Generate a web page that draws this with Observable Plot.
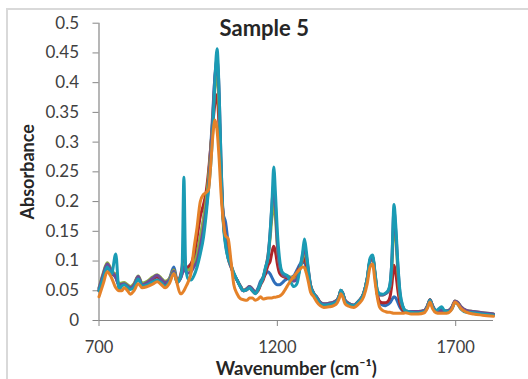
<!DOCTYPE html>
<html>
<head>
<meta charset="utf-8">
<script src="https://cdn.jsdelivr.net/npm/d3@7"></script>
<script src="https://cdn.jsdelivr.net/npm/@observablehq/plot@0.6"></script>
<style>
  html, body { margin: 0; padding: 0; background: #fff; overflow: hidden; }
  #wrap { position: relative; width: 528px; height: 379px; }
  #frame { position: absolute; left: 6px; top: 8px; width: 520px; height: 369px;
           border-left: 2px solid #d9d9d9; border-top: 2px solid #d9d9d9; pointer-events: none; }
  #chart { position: absolute; left: 0; top: 0; }
</style>
</head>
<body>
<div id="wrap"><div id="chart"></div><div id="frame"></div></div>
<script>
const title = "Sample 5";
const xLabel = "Wavenumber (cm⁻¹)";
const yLabel = "Absorbance";
const xTicks = [700, 1200, 1700];
const yTicks = [0, 0.05, 0.1, 0.15, 0.2, 0.25, 0.3, 0.35, 0.4, 0.45, 0.5];
const seriesNames = ["S1", "S2", "S3", "S4", "S5", "S6"];
const seriesColors = ["#2F6EBA", "#AE2429", "#8DB040", "#6E4B97", "#1A9BB4", "#E58229"];

const wavenumber = [
  700, 712, 723, 735, 747, 756, 764, 771, 780, 788,
  798, 810, 821, 835, 850, 863, 875, 885, 897, 910,
  919, 928, 933, 938, 943, 950, 958, 966, 975, 984,
  993, 1000, 1007, 1013, 1019, 1025, 1031, 1037, 1042, 1048,
  1055, 1062, 1070, 1078, 1087, 1096, 1105, 1115, 1122, 1130,
  1138, 1146, 1153, 1160, 1167, 1174, 1180, 1185, 1190, 1195,
  1200, 1206, 1213, 1220, 1227, 1236, 1246, 1255, 1264, 1271,
  1276, 1281, 1287, 1293, 1302, 1311, 1320, 1330, 1345, 1358,
  1368, 1374, 1378, 1383, 1390, 1400, 1414, 1428, 1442, 1452,
  1460, 1467, 1474, 1480, 1487, 1495, 1503, 1510, 1516, 1521,
  1527, 1532, 1538, 1544, 1552, 1560, 1575, 1595, 1612, 1621,
  1628, 1635, 1645, 1655, 1661, 1668, 1680, 1690, 1698, 1705,
  1715, 1730, 1750, 1775, 1806
];

const s1 = [
  .052,.075,.092,.080,.072,.060,.060,.062,.058,.055,
  .060,.073,.060,.063,.070,.074,.068,.063,.070,.090,
  .068,.070,.080,.092,.085,.090,.095,.100,.115,.140,
  .170,.200,.240,.290,.350,.410,.430,.350,.250,.180,
  .165,.130,.095,.078,.068,.058,.050,.053,.056,.052,
  .048,.055,.066,.072,.078,.082,.078,.072,.066,.062,
  .060,.060,.063,.067,.070,.072,.075,.085,.095,.098,
  .097,.090,.075,.058,.045,.038,.030,.027,.028,.030,
  .034,.042,.050,.046,.033,.028,.025,.032,.045,.070,
  .100,.105,.075,.045,.030,.026,.025,.027,.030,.035,
  .040,.038,.030,.022,.016,.014,.014,.014,.016,.024,
  .035,.024,.016,.017,.019,.016,.016,.022,.032,.030,
  .022,.016,.014,.012,.010
];
const s2 = [
  .050,.072,.090,.078,.078,.060,.060,.062,.058,.055,
  .060,.072,.060,.062,.069,.073,.067,.062,.068,.085,
  .066,.075,.090,.120,.085,.090,.095,.110,.140,.175,
  .195,.215,.250,.290,.330,.365,.380,.320,.240,.175,
  .140,.110,.092,.078,.068,.058,.050,.052,.055,.050,
  .046,.050,.060,.068,.080,.093,.100,.115,.125,.115,
  .095,.080,.075,.073,.072,.070,.070,.080,.092,.100,
  .105,.095,.078,.058,.045,.038,.030,.027,.028,.030,
  .034,.042,.050,.046,.033,.028,.025,.032,.045,.070,
  .100,.105,.075,.045,.032,.030,.030,.032,.040,.060,
  .093,.080,.050,.028,.017,.014,.014,.014,.016,.024,
  .035,.024,.016,.016,.016,.015,.016,.022,.032,.030,
  .022,.016,.014,.012,.010
];
const s3 = [
  .055,.080,.097,.085,.075,.062,.063,.064,.060,.057,
  .062,.075,.063,.066,.073,.077,.071,.066,.070,.085,
  .066,.072,.080,.095,.085,.085,.088,.095,.110,.140,
  .170,.200,.240,.285,.340,.395,.410,.350,.250,.170,
  .130,.105,.090,.078,.068,.058,.051,.054,.057,.053,
  .048,.052,.062,.072,.088,.110,.140,.175,.200,.170,
  .125,.095,.080,.075,.075,.073,.068,.072,.088,.105,
  .120,.105,.082,.060,.046,.039,.031,.028,.029,.031,
  .035,.043,.051,.047,.034,.029,.026,.033,.046,.070,
  .102,.107,.078,.050,.043,.043,.045,.048,.058,.090,
  .160,.140,.080,.040,.022,.016,.015,.015,.017,.025,
  .035,.025,.017,.017,.017,.016,.017,.023,.033,.031,
  .023,.017,.015,.013,.011
];
const s4 = [
  .054,.078,.095,.083,.073,.060,.061,.062,.058,.055,
  .060,.074,.060,.064,.071,.076,.069,.064,.068,.083,
  .064,.070,.078,.090,.082,.080,.082,.090,.100,.125,
  .155,.185,.225,.280,.340,.410,.440,.380,.270,.175,
  .130,.105,.090,.078,.068,.058,.050,.054,.057,.053,
  .048,.052,.062,.072,.088,.110,.150,.195,.230,.190,
  .130,.095,.080,.075,.074,.071,.066,.070,.090,.110,
  .125,.110,.085,.060,.046,.039,.031,.028,.029,.031,
  .035,.043,.051,.047,.034,.029,.026,.033,.046,.070,
  .102,.107,.078,.050,.043,.043,.045,.048,.060,.100,
  .185,.150,.090,.045,.023,.016,.015,.015,.017,.025,
  .035,.025,.017,.017,.017,.016,.017,.023,.033,.031,
  .023,.017,.015,.013,.011
];
const s5 = [
  .050,.072,.090,.078,.112,.052,.058,.060,.056,.052,
  .056,.070,.058,.060,.065,.068,.063,.058,.065,.080,
  .064,.072,.090,.241,.090,.070,.068,.075,.090,.112,
  .140,.175,.220,.260,.320,.405,.457,.380,.270,.170,
  .125,.105,.093,.080,.068,.057,.050,.052,.055,.050,
  .045,.052,.062,.072,.090,.105,.150,.200,.258,.210,
  .150,.105,.082,.078,.076,.067,.057,.062,.090,.115,
  .137,.118,.085,.058,.045,.037,.029,.026,.027,.029,
  .033,.042,.051,.046,.032,.027,.025,.032,.045,.072,
  .105,.110,.080,.052,.045,.044,.046,.050,.062,.100,
  .195,.160,.095,.048,.024,.016,.014,.013,.015,.023,
  .034,.023,.017,.021,.023,.017,.015,.020,.030,.028,
  .019,.014,.013,.011,.009
];
const s6 = [
  .040,.062,.082,.072,.055,.050,.050,.055,.050,.044,
  .050,.062,.055,.057,.061,.065,.060,.055,.062,.079,
  .062,.045,.046,.050,.056,.065,.080,.120,.157,.200,
  .212,.215,.220,.260,.310,.337,.320,.270,.215,.170,
  .142,.138,.100,.060,.045,.037,.035,.034,.038,.038,
  .034,.036,.040,.036,.037,.038,.038,.038,.039,.039,
  .040,.041,.044,.050,.057,.066,.074,.081,.087,.090,
  .089,.080,.065,.048,.040,.031,.025,.022,.023,.025,
  .030,.038,.045,.040,.028,.024,.022,.028,.040,.062,
  .090,.095,.065,.040,.022,.017,.015,.014,.014,.013,
  .012,.012,.012,.012,.012,.013,.011,.011,.013,.021,
  .031,.020,.013,.012,.012,.012,.013,.020,.031,.028,
  .020,.014,.011,.009,.007
];

const seriesValues = [s1, s2, s3, s4, s5, s6];
const rows = seriesNames.flatMap((name, i) =>
  wavenumber.map((w, j) => ({series: name, w, a: seriesValues[i][j]}))
);

const font = "Lato, 'Open Sans', sans-serif";
const chart = Plot.plot({
  width: 528,
  height: 379,
  marginLeft: 98.5,
  marginRight: 35,
  marginTop: 22.7,
  marginBottom: 59,
  style: {fontFamily: font, background: "transparent", overflow: "visible"},
  x: {domain: [700, 1806]},
  y: {domain: [0, 0.5]},
  color: {domain: seriesNames, range: seriesColors},
  marks: [
    Plot.ruleX([700], {stroke: "#868686", strokeWidth: 1.2}),
    Plot.ruleY([0], {stroke: "#868686", strokeWidth: 1.2}),
    Plot.axisY({ticks: yTicks, tickSize: 6, tickPadding: 14, stroke: "#868686",
      tickFormat: d => String(+d.toFixed(2)), fontSize: 17, fill: "#404040", label: null}),
    Plot.axisX({ticks: xTicks, tickSize: 6, tickPadding: 15, stroke: "#868686",
      tickFormat: d => String(d), fontSize: 16.5, fill: "#404040", label: null}),
    Plot.lineY(rows, {x: "w", y: "a", z: "series", stroke: "series", strokeWidth: 3, curve: "monotone-x"}),
    Plot.text([title], {frameAnchor: "top", dx: -32, dy: 13, lineAnchor: "bottom",
      fontSize: 22, fontWeight: "bold", fill: "#262626"}),
    Plot.text([xLabel], {frameAnchor: "bottom", dx: 0, dy: 54, lineAnchor: "bottom",
      fontSize: 18.5, fontWeight: "bold", fill: "#262626"}),
    Plot.text([yLabel], {frameAnchor: "left", dx: -70.5, rotate: -90, lineAnchor: "middle",
      textAnchor: "middle", fontSize: 18, fontWeight: "bold", fill: "#262626"})
  ]
});
document.getElementById("chart").appendChild(chart);
</script>
</body>
</html>
